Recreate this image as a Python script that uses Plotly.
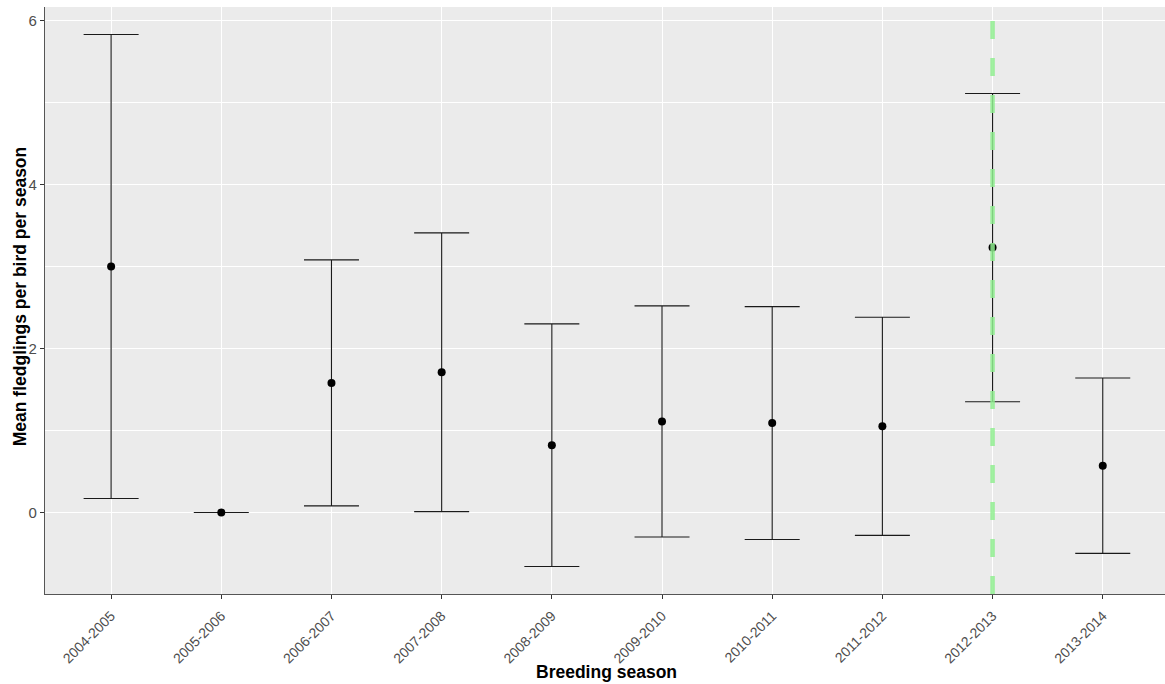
import plotly.graph_objects as go

# Breeding seasons and mean fledglings per bird, with half-width of the interval
seasons = ["2004-2005", "2005-2006", "2006-2007", "2007-2008", "2008-2009",
           "2009-2010", "2010-2011", "2011-2012", "2012-2013", "2013-2014"]
mean_fledglings = [3.00, 0.00, 1.58, 1.71, 0.82, 1.11, 1.09, 1.05, 3.23, 0.57]
interval_half = [2.83, 0.00, 1.50, 1.70, 1.48, 1.41, 1.42, 1.33, 1.88, 1.07]
highlight_season = "2012-2013"

FONT = "Liberation Sans, Arial, sans-serif"

fig = go.Figure()
fig.add_trace(go.Scatter(
    x=seasons,
    y=mean_fledglings,
    mode="markers",
    marker=dict(color="black", size=8),
    error_y=dict(type="data", array=interval_half, symmetric=True,
                 color="#1a1a1a", thickness=1.1, width=27.5),
    showlegend=False,
    hoverinfo="x+y",
))

# Dashed marker line for the highlighted season, drawn from the bottom up
fig.add_shape(
    type="line", xref="x", yref="paper",
    x0=highlight_season, x1=highlight_season, y0=0, y1=1,
    line=dict(color="rgba(144,238,144,0.85)", width=4.5, dash="18px,19px"),
    layer="above",
)

fig.update_layout(
    width=1165, height=684,
    margin=dict(l=45, r=0, t=7, b=90),
    paper_bgcolor="white",
    plot_bgcolor="#EBEBEB",
    font=dict(family=FONT, color="#4D4D4D", size=14),
    annotations=[
        dict(text="<b>Breeding season</b>", xref="paper", yref="paper",
             x=0.5017, y=-0.1329, xanchor="center", yanchor="middle",
             showarrow=False, font=dict(family=FONT, size=17.5, color="black")),
        dict(text="<b>Mean fledglings per bird per season</b>", xref="paper", yref="paper",
             x=-0.0228, y=0.508, xanchor="center", yanchor="middle", textangle=-90,
             showarrow=False, font=dict(family=FONT, size=17.5, color="black")),
    ],
)

fig.update_xaxes(
    type="category",
    categoryorder="array", categoryarray=seasons,
    range=[-0.6, 9.565],
    showgrid=True, gridcolor="white", gridwidth=1.1,
    ticks="outside", ticklen=4, tickcolor="#333333", tickwidth=1,
    tickangle=-45, ticklabelstandoff=3,
    tickfont=dict(family=FONT, size=14, color="#4D4D4D"),
    showline=True, linecolor="#555555", linewidth=1.3,
    zeroline=False,
    fixedrange=True,
)

fig.update_yaxes(
    range=[-0.995, 6.165],
    tickvals=[0, 2, 4, 6],
    showgrid=True, gridcolor="white", gridwidth=1.1,
    minor=dict(dtick=1, tick0=0, showgrid=True, gridcolor="white", gridwidth=0.5),
    ticks="outside", ticklen=4, tickcolor="#333333", tickwidth=1,
    tickfont=dict(family=FONT, size=15, color="#4D4D4D"),
    showline=True, linecolor="#555555", linewidth=1.3,
    zeroline=False,
    fixedrange=True,
)

fig.write_html("out.html", config={"displayModeBar": False})
